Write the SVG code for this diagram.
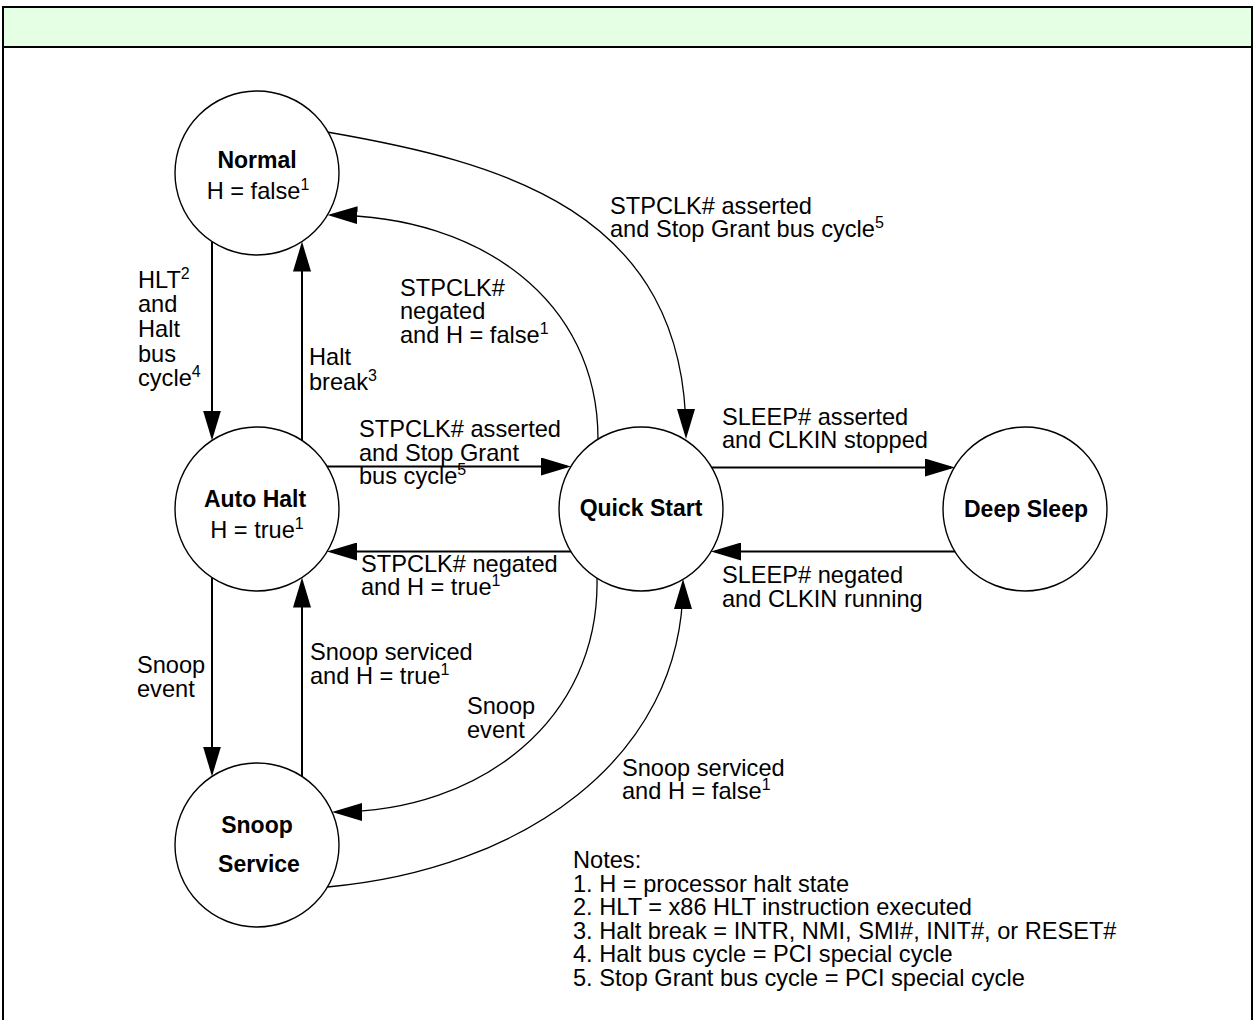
<svg xmlns="http://www.w3.org/2000/svg" width="1256" height="1020" viewBox="0 0 1256 1020">
<style>
text{font-family:"Liberation Sans",Arial,Helvetica,sans-serif;font-size:23.6px;fill:#000}
.b{font-weight:bold;font-size:23px}
.m{text-anchor:middle}
.sup{font-size:16px}
.node{fill:#fff;stroke:#000;stroke-width:1.4}
.st{fill:none;stroke:#000;stroke-width:2}
.cv{fill:none;stroke:#000;stroke-width:1.3}
</style>
<defs>
<marker id="ah" markerUnits="userSpaceOnUse" markerWidth="30" markerHeight="18" viewBox="0 0 30 18" refX="26" refY="9" orient="auto">
<path d="M0,0 L30,9 L0,18 z" fill="#000"/>
</marker>
</defs>
<g id="frame">
<rect x="3" y="7" width="1249" height="40" fill="#e5ffe5"/>
<path d="M3,1020 V7 H1252 V1020" fill="none" stroke="#000" stroke-width="2"/>
<line x1="3" y1="47" x2="1252" y2="47" stroke="#000" stroke-width="2"/>
</g>
<g id="connectors">
<g id="e-normal-autohalt">
<path class="st" d="M212,242 V436.5" marker-end="url(#ah)"/>
<text x="138" y="288">HLT<tspan class="sup" dy="-9">2</tspan></text>
<text x="138" y="312">and</text>
<text x="138" y="337">Halt</text>
<text x="138" y="362">bus</text>
<text x="138" y="386">cycle<tspan class="sup" dy="-9">4</tspan></text>
</g>
<g id="e-autohalt-normal">
<path class="st" d="M302,440.5 V245.5" marker-end="url(#ah)"/>
<text x="309" y="365">Halt</text>
<text x="309" y="390">break<tspan class="sup" dy="-9">3</tspan></text>
</g>
<g id="e-autohalt-quick">
<path class="st" d="M327,466.5 H567" marker-end="url(#ah)"/>
<text x="359" y="437">STPCLK# asserted</text>
<text x="359" y="461">and Stop Grant</text>
<text x="359" y="484">bus cycle<tspan class="sup" dy="-9">5</tspan></text>
</g>
<g id="e-quick-autohalt">
<path class="st" d="M571,551.5 H331" marker-end="url(#ah)"/>
<text x="361" y="572">STPCLK# negated</text>
<text x="361" y="595">and H = true<tspan class="sup" dy="-9">1</tspan></text>
</g>
<g id="e-autohalt-snoop">
<path class="st" d="M212,577.5 V772.5" marker-end="url(#ah)"/>
<text x="137" y="673">Snoop</text>
<text x="137" y="697">event</text>
</g>
<g id="e-snoop-autohalt">
<path class="st" d="M302,776.5 V581.5" marker-end="url(#ah)"/>
<text x="310" y="660">Snoop serviced</text>
<text x="310" y="684">and H = true<tspan class="sup" dy="-9">1</tspan></text>
</g>
<g id="e-quick-deep">
<path class="st" d="M711,467.5 H951" marker-end="url(#ah)"/>
<text x="722" y="425">SLEEP# asserted</text>
<text x="722" y="448">and CLKIN stopped</text>
</g>
<g id="e-deep-quick">
<path class="st" d="M955,551.5 H715" marker-end="url(#ah)"/>
<text x="722" y="583">SLEEP# negated</text>
<text x="722" y="607">and CLKIN running</text>
</g>
<g id="e-normal-quick">
<path class="cv" d="M327,132 C500,162 686,210 686,435" marker-end="url(#ah)"/>
<text x="610" y="214">STPCLK# asserted</text>
<text x="610" y="237">and Stop Grant bus cycle<tspan class="sup" dy="-9">5</tspan></text>
</g>
<g id="e-quick-normal">
<path class="cv" d="M598,439 C598,300 480,216 331.5,215" marker-end="url(#ah)"/>
<text x="400" y="296">STPCLK#</text>
<text x="400" y="319">negated</text>
<text x="400" y="343">and H = false<tspan class="sup" dy="-9">1</tspan></text>
</g>
<g id="e-quick-snoop">
<path class="cv" d="M597,578 C600,720 480,812 336,812" marker-end="url(#ah)"/>
<text x="467" y="714">Snoop</text>
<text x="467" y="738">event</text>
</g>
<g id="e-snoop-quick">
<path class="cv" d="M327.5,887 C520,870 683,760 683,583" marker-end="url(#ah)"/>
<text x="622" y="776">Snoop serviced</text>
<text x="622" y="799">and H = false<tspan class="sup" dy="-9">1</tspan></text>
</g>
</g>
<g id="normal">
<circle class="node" cx="257" cy="173" r="82"/>
<text class="b m" x="257" y="168">Normal</text>
<text class="m" x="258" y="199">H = false<tspan class="sup" dy="-9">1</tspan></text>
</g>
<g id="autohalt">
<circle class="node" cx="257" cy="509" r="82"/>
<text class="b m" x="255" y="507">Auto Halt</text>
<text class="m" x="257" y="538">H = true<tspan class="sup" dy="-9">1</tspan></text>
</g>
<g id="snoopservice">
<circle class="node" cx="257" cy="845" r="82"/>
<text class="b m" x="257" y="833">Snoop</text>
<text class="b m" x="259" y="872">Service</text>
</g>
<g id="quickstart">
<circle class="node" cx="641" cy="509" r="82"/>
<text class="b m" x="641" y="516">Quick Start</text>
</g>
<g id="deepsleep">
<circle class="node" cx="1025" cy="509" r="82"/>
<text class="b m" x="1026" y="517">Deep Sleep</text>
</g>
<g id="notes">
<text x="573" y="868">Notes:</text>
<text x="573" y="892">1. H = processor halt state</text>
<text x="573" y="915">2. HLT = x86 HLT instruction executed</text>
<text x="573" y="939">3. Halt break = INTR, NMI, SMI#, INIT#, or RESET#</text>
<text x="573" y="962">4. Halt bus cycle = PCI special cycle</text>
<text x="573" y="986">5. Stop Grant bus cycle = PCI special cycle</text>
</g>
</svg>
